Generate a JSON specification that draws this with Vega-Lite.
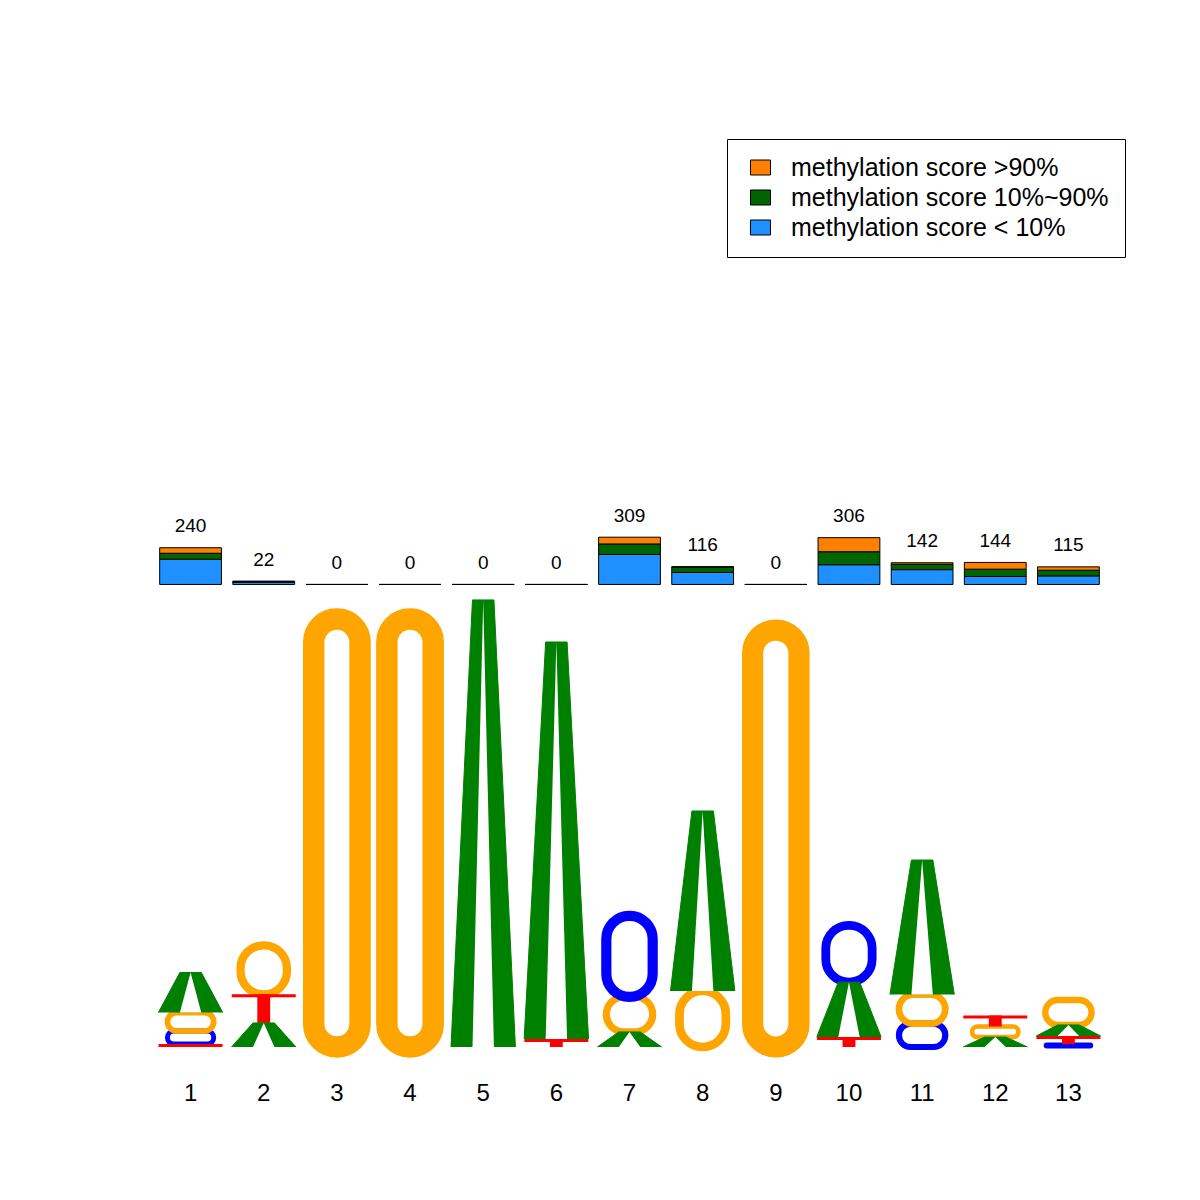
{
  "$schema": "https://vega.github.io/schema/vega-lite/v6.json",
  "width": 951,
  "height": 950,
  "autosize": {"type": "none"},
  "padding": {"left": 154, "top": 97, "right": 95, "bottom": 153},
  "background": "white",
  "config": {"view": {"stroke": null}, "font": "Liberation Sans"},
  "datasets": {
    "letters": [
      {"pos": 1, "letter": "T", "bits": 0.013}, {"pos": 1, "letter": "C", "bits": 0.058}, {"pos": 1, "letter": "G", "bits": 0.082}, {"pos": 1, "letter": "A", "bits": 0.178},
      {"pos": 2, "letter": "A", "bits": 0.107}, {"pos": 2, "letter": "T", "bits": 0.127}, {"pos": 2, "letter": "G", "bits": 0.218},
      {"pos": 3, "letter": "G", "bits": 1.902},
      {"pos": 4, "letter": "G", "bits": 1.902},
      {"pos": 5, "letter": "A", "bits": 1.987},
      {"pos": 6, "letter": "T", "bits": 0.036}, {"pos": 6, "letter": "A", "bits": 1.764},
      {"pos": 7, "letter": "A", "bits": 0.067}, {"pos": 7, "letter": "G", "bits": 0.156}, {"pos": 7, "letter": "C", "bits": 0.36},
      {"pos": 8, "letter": "G", "bits": 0.249}, {"pos": 8, "letter": "A", "bits": 0.8},
      {"pos": 9, "letter": "G", "bits": 1.853},
      {"pos": 10, "letter": "T", "bits": 0.044}, {"pos": 10, "letter": "A", "bits": 0.244}, {"pos": 10, "letter": "C", "bits": 0.253},
      {"pos": 11, "letter": "C", "bits": 0.104}, {"pos": 11, "letter": "G", "bits": 0.129}, {"pos": 11, "letter": "A", "bits": 0.598},
      {"pos": 12, "letter": "A", "bits": 0.044}, {"pos": 12, "letter": "G", "bits": 0.047}, {"pos": 12, "letter": "T", "bits": 0.049},
      {"pos": 13, "letter": "C", "bits": 0.013}, {"pos": 13, "letter": "T", "bits": 0.036}, {"pos": 13, "letter": "A", "bits": 0.049}, {"pos": 13, "letter": "G", "bits": 0.111}
    ],
    "meth": [
      {"pos": 1, "score": "methylation score < 10%", "lower": 0, "count": 165},
      {"pos": 1, "score": "methylation score 10%~90%", "lower": 10, "count": 39},
      {"pos": 1, "score": "methylation score >90%", "lower": 90, "count": 36},
      {"pos": 2, "score": "methylation score < 10%", "lower": 0, "count": 14},
      {"pos": 2, "score": "methylation score 10%~90%", "lower": 10, "count": 5},
      {"pos": 2, "score": "methylation score >90%", "lower": 90, "count": 3},
      {"pos": 3, "score": "methylation score < 10%", "lower": 0, "count": 0},
      {"pos": 3, "score": "methylation score 10%~90%", "lower": 10, "count": 0},
      {"pos": 3, "score": "methylation score >90%", "lower": 90, "count": 0},
      {"pos": 4, "score": "methylation score < 10%", "lower": 0, "count": 0},
      {"pos": 4, "score": "methylation score 10%~90%", "lower": 10, "count": 0},
      {"pos": 4, "score": "methylation score >90%", "lower": 90, "count": 0},
      {"pos": 5, "score": "methylation score < 10%", "lower": 0, "count": 0},
      {"pos": 5, "score": "methylation score 10%~90%", "lower": 10, "count": 0},
      {"pos": 5, "score": "methylation score >90%", "lower": 90, "count": 0},
      {"pos": 6, "score": "methylation score < 10%", "lower": 0, "count": 0},
      {"pos": 6, "score": "methylation score 10%~90%", "lower": 10, "count": 0},
      {"pos": 6, "score": "methylation score >90%", "lower": 90, "count": 0},
      {"pos": 7, "score": "methylation score < 10%", "lower": 0, "count": 196},
      {"pos": 7, "score": "methylation score 10%~90%", "lower": 10, "count": 69},
      {"pos": 7, "score": "methylation score >90%", "lower": 90, "count": 44},
      {"pos": 8, "score": "methylation score < 10%", "lower": 0, "count": 79},
      {"pos": 8, "score": "methylation score 10%~90%", "lower": 10, "count": 35},
      {"pos": 8, "score": "methylation score >90%", "lower": 90, "count": 2},
      {"pos": 9, "score": "methylation score < 10%", "lower": 0, "count": 0},
      {"pos": 9, "score": "methylation score 10%~90%", "lower": 10, "count": 0},
      {"pos": 9, "score": "methylation score >90%", "lower": 90, "count": 0},
      {"pos": 10, "score": "methylation score < 10%", "lower": 0, "count": 129},
      {"pos": 10, "score": "methylation score 10%~90%", "lower": 10, "count": 85},
      {"pos": 10, "score": "methylation score >90%", "lower": 90, "count": 92},
      {"pos": 11, "score": "methylation score < 10%", "lower": 0, "count": 97},
      {"pos": 11, "score": "methylation score 10%~90%", "lower": 10, "count": 35},
      {"pos": 11, "score": "methylation score >90%", "lower": 90, "count": 10},
      {"pos": 12, "score": "methylation score < 10%", "lower": 0, "count": 52},
      {"pos": 12, "score": "methylation score 10%~90%", "lower": 10, "count": 48},
      {"pos": 12, "score": "methylation score >90%", "lower": 90, "count": 44},
      {"pos": 13, "score": "methylation score < 10%", "lower": 0, "count": 56},
      {"pos": 13, "score": "methylation score 10%~90%", "lower": 10, "count": 37},
      {"pos": 13, "score": "methylation score >90%", "lower": 90, "count": 22}
    ]
  },
  "resolve": {"scale": {"y": "independent", "xOffset": "independent"}},
  "layer": [
    {
      "data": {"name": "meth"},
      "mark": {"type": "bar", "stroke": "black", "strokeWidth": 1, "width": {"band": 0.96}},
      "encoding": {
        "x": {"field": "pos", "type": "ordinal", "scale": {"domain": [1,2,3,4,5,6,7,8,9,10,11,12,13], "paddingInner": 0.12, "paddingOuter": 0.06}, "axis": {"title": null, "domain": false, "ticks": false, "tickSize": 0, "grid": false, "labelAngle": 0, "labelFontSize": 24, "labelColor": "black", "labelPadding": 34, "labelFont": "Liberation Sans"}},
        "y": {"field": "count", "type": "quantitative", "stack": "zero", "scale": {"domain": [-3023, 3186], "zero": false, "nice": false}, "axis": null},
        "fill": {"field": "score", "type": "nominal",
          "scale": {"domain": ["methylation score >90%", "methylation score 10%~90%", "methylation score < 10%"], "range": ["#FF7F00", "#006400", "#1E90FF"]},
          "legend": {"title": null, "orient": "none", "legendX": 573, "legendY": 42, "direction": "vertical",
            "symbolType": "M-1,-0.75H1V0.75H-1Z", "symbolSize": 400, "symbolStrokeColor": "black", "symbolStrokeWidth": 1,
            "labelFontSize": 25, "labelFont": "Liberation Sans", "labelColor": "black", "labelLimit": 0, "labelOffset": 18,
            "strokeColor": "black", "fillColor": "white", "padding": 16, "symbolOffset": 5, "rowPadding": 4}},
        "order": {"field": "lower", "type": "quantitative", "sort": "ascending"}
      }
    },
    {
      "data": {"name": "meth"},
      "mark": {"type": "text", "fontSize": 19, "dy": -21.5, "baseline": "middle", "color": "black"},
      "encoding": {
        "x": {"field": "pos", "type": "ordinal", "scale": {"domain": [1,2,3,4,5,6,7,8,9,10,11,12,13], "paddingInner": 0.12, "paddingOuter": 0.06}, "axis": {"title": null, "domain": false, "ticks": false, "tickSize": 0, "grid": false, "labelAngle": 0, "labelFontSize": 24, "labelColor": "black", "labelPadding": 34, "labelFont": "Liberation Sans"}},
        "y": {"aggregate": "sum", "field": "count", "type": "quantitative", "scale": {"domain": [-3023, 3186], "zero": false, "nice": false}, "axis": null},
        "text": {"aggregate": "sum", "field": "count", "type": "quantitative"}
      }
    },
    {
      "data": {"name": "letters"},
      "transform": [
        {"stack": "bits", "groupby": ["pos"], "sort": [{"field": "bits", "order": "ascending"}], "as": ["y0", "y1"]},
        {"filter": {"field": "letter", "oneOf": ["G", "C"]}}
      ],
      "mark": {"type": "bar", "filled": false, "cornerRadius": 23, "width": {"band": 0.72}},
      "encoding": {
        "x": {"field": "pos", "type": "ordinal", "scale": {"domain": [1,2,3,4,5,6,7,8,9,10,11,12,13], "paddingInner": 0.12, "paddingOuter": 0.06}, "axis": {"title": null, "domain": false, "ticks": false, "tickSize": 0, "grid": false, "labelAngle": 0, "labelFontSize": 24, "labelColor": "black", "labelPadding": 34, "labelFont": "Liberation Sans"}},
        "y": {"field": "y0", "type": "quantitative", "scale": {"domain": [0, 4.2222], "zero": false, "nice": false}, "axis": null},
        "y2": {"field": "y1"},
        "stroke": {"field": "letter", "type": "nominal", "scale": {"domain": ["A", "C", "G", "T"], "range": ["#008000", "#0000FF", "#FFA500", "#FF0000"]}, "legend": null},
        "strokeWidth": {"field": "bits", "type": "quantitative", "scale": {"type": "sqrt", "domain": [0, 2], "range": [1.5, 22]}, "legend": null}
      }
    },
    {
      "data": {"name": "letters"},
      "transform": [
        {"stack": "bits", "groupby": ["pos"], "sort": [{"field": "bits", "order": "ascending"}], "as": ["y0", "y1"]},
        {"filter": {"field": "letter", "equal": "T"}}
      ],
      "mark": {"type": "bar", "fill": "#FF0000", "width": {"band": 0.2}},
      "encoding": {
        "x": {"field": "pos", "type": "ordinal", "scale": {"domain": [1,2,3,4,5,6,7,8,9,10,11,12,13], "paddingInner": 0.12, "paddingOuter": 0.06}, "axis": {"title": null, "domain": false, "ticks": false, "tickSize": 0, "grid": false, "labelAngle": 0, "labelFontSize": 24, "labelColor": "black", "labelPadding": 34, "labelFont": "Liberation Sans"}},
        "y": {"field": "y0", "type": "quantitative", "scale": {"domain": [0, 4.2222], "zero": false, "nice": false}, "axis": null},
        "y2": {"field": "y1"}
      }
    },
    {
      "data": {"name": "letters"},
      "transform": [
        {"stack": "bits", "groupby": ["pos"], "sort": [{"field": "bits", "order": "ascending"}], "as": ["y0", "y1"]},
        {"filter": {"field": "letter", "equal": "T"}}
      ],
      "mark": {"type": "tick", "color": "#FF0000", "thickness": 3, "size": 64, "yOffset": 1.5, "opacity": 1},
      "encoding": {
        "x": {"field": "pos", "type": "ordinal", "scale": {"domain": [1,2,3,4,5,6,7,8,9,10,11,12,13], "paddingInner": 0.12, "paddingOuter": 0.06}, "axis": {"title": null, "domain": false, "ticks": false, "tickSize": 0, "grid": false, "labelAngle": 0, "labelFontSize": 24, "labelColor": "black", "labelPadding": 34, "labelFont": "Liberation Sans"}},
        "y": {"field": "y1", "type": "quantitative", "scale": {"domain": [0, 4.2222], "zero": false, "nice": false}, "axis": null}
      }
    },
    {
      "data": {"name": "letters"},
      "transform": [
        {"stack": "bits", "groupby": ["pos"], "sort": [{"field": "bits", "order": "ascending"}], "as": ["y0", "y1"]},
        {"filter": {"field": "letter", "equal": "A"}},
        {"fold": ["y0", "y1", "y1", "y0"], "as": ["edge", "yv"]},
        {"window": [{"op": "row_number", "as": "corner"}], "groupby": ["pos"]}
      ],
      "mark": {"type": "line", "fill": "#008000", "stroke": "#008000", "strokeWidth": 1, "interpolate": "linear"},
      "encoding": {
        "x": {"field": "pos", "type": "ordinal", "scale": {"domain": [1,2,3,4,5,6,7,8,9,10,11,12,13], "paddingInner": 0.12, "paddingOuter": 0.06}, "axis": {"title": null, "domain": false, "ticks": false, "tickSize": 0, "grid": false, "labelAngle": 0, "labelFontSize": 24, "labelColor": "black", "labelPadding": 34, "labelFont": "Liberation Sans"}},
        "xOffset": {"field": "corner", "type": "quantitative", "scale": {"domain": [1, 4], "range": [0, 64.4]}},
        "y": {"field": "yv", "type": "quantitative", "scale": {"domain": [0, 4.2222], "zero": false, "nice": false}, "axis": null},
        "detail": {"field": "pos", "type": "ordinal"},
        "order": {"field": "corner", "type": "quantitative"}
      }
    },
    {
      "data": {"name": "letters"},
      "transform": [
        {"stack": "bits", "groupby": ["pos"], "sort": [{"field": "bits", "order": "ascending"}], "as": ["y0", "y1"]},
        {"filter": {"field": "letter", "equal": "A"}},
        {"fold": ["y0", "y1", "y0"], "as": ["edge", "yv"]},
        {"window": [{"op": "row_number", "as": "corner"}], "groupby": ["pos"]}
      ],
      "mark": {"type": "line", "fill": "white", "stroke": null, "strokeWidth": 0, "interpolate": "linear"},
      "encoding": {
        "x": {"field": "pos", "type": "ordinal", "scale": {"domain": [1,2,3,4,5,6,7,8,9,10,11,12,13], "paddingInner": 0.12, "paddingOuter": 0.06}, "axis": {"title": null, "domain": false, "ticks": false, "tickSize": 0, "grid": false, "labelAngle": 0, "labelFontSize": 24, "labelColor": "black", "labelPadding": 34, "labelFont": "Liberation Sans"}},
        "xOffset": {"field": "corner", "type": "quantitative", "scale": {"domain": [1, 3], "range": [21.5, 42.9]}},
        "y": {"field": "yv", "type": "quantitative", "scale": {"domain": [0, 4.2222], "zero": false, "nice": false}, "axis": null},
        "detail": {"field": "pos", "type": "ordinal"},
        "order": {"field": "corner", "type": "quantitative"}
      }
    }
  ]
}
